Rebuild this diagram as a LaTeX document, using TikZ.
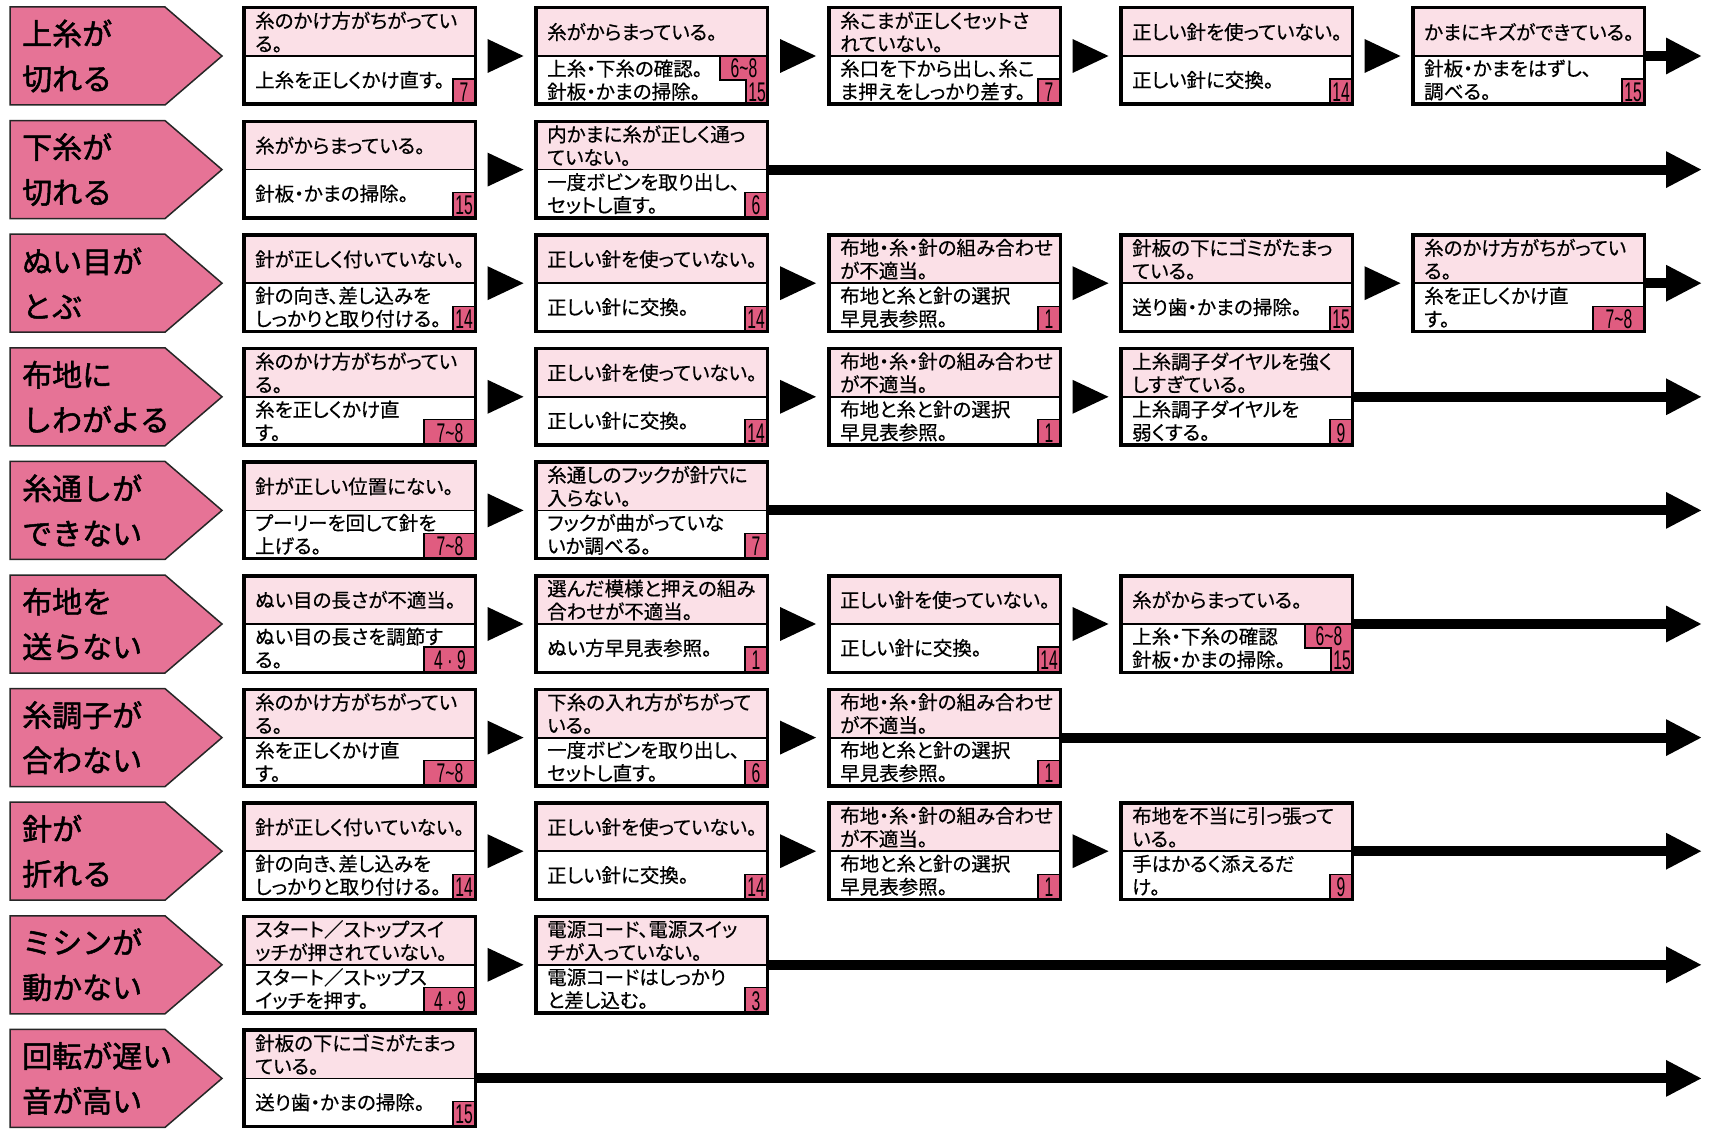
\documentclass[tikz,border=0pt]{standalone}
\usepackage{fontspec}
\newfontfamily\jp[RawFeature={+palt},FakeBold=0.5]{Noto Sans CJK JP}
\newfontfamily\jpb[FakeBold=1.6]{Noto Sans CJK JP}
\newfontfamily\numf[FakeStretch=0.58]{Liberation Sans}
\usetikzlibrary{calc,arrows.meta}
\definecolor{pentpink}{RGB}{230,115,150}
\definecolor{lightpink}{RGB}{251,224,231}
\definecolor{tagpink}{RGB}{224,92,128}
\tikzset{
  txt/.style={anchor=west, align=left, inner sep=0pt, font=\jp\fontsize{19.5}{23}\selectfont},
  lbl/.style={anchor=west, align=left, inner sep=0pt, font=\jpb\fontsize{30}{45}\selectfont},
  frame/.style={draw=black, line width=3.5pt, minimum width=231.5pt, minimum height=96.5pt, inner sep=0pt, anchor=center},
  tagbox/.style={fill=tagpink, draw=black, line width=1.2pt},
  tagtxt/.style={inner sep=0pt, font=\numf\fontsize{27}{27}\selectfont},
  pent/.style={fill=pentpink, draw=black!85, line width=1.5pt, line join=miter},
  bigarrow/.style={line width=10pt, -{Triangle[width=34pt,length=36pt]}},
}
% pentagon label: name, y, line1, line2
\newcommand\pent[4]{%
  \draw[pent] (10,#2+1) -- (165,#2+1) -- (222,#2+50) -- (165,#2+99) -- (10,#2+99) -- cycle;
  \node[lbl] (#1) at (22,#2+50) {#3\\#4};}
% tags: name, x, y, text
\newcommand\tagn[4]{%
  \filldraw[tagbox] (#2+211,#3+73) rectangle (#2+234,#3+99);
  \node[tagtxt] (#1g) at (#2+222,#3+86) {#4};}
\newcommand\tagw[4]{%
  \filldraw[tagbox] (#2+182,#3+73) rectangle (#2+234,#3+99);
  \node[tagtxt] (#1g) at (#2+208,#3+86) {#4};}
\newcommand\tags[4]{%
  \filldraw[tagbox] (#2+186,#3+50) -- (#2+234,#3+50) -- (#2+234,#3+99) -- (#2+212,#3+99) -- (#2+212,#3+74) -- (#2+186,#3+74) -- cycle;
  \node[tagtxt] (#1g) at (#2+210,#3+62.5) {6\textasciitilde 8};
  \node[tagtxt] (#1h) at (#2+223,#3+86.5) {15};}
% box: name, x, y, top, bottom, tagkind (n/w/s), tagtext
\newcommand\cb[7]{%
  \fill[lightpink] (#2,#3) rectangle (#2+235,#3+50);
  \draw[line width=1.8pt] (#2,#3+50) -- (#2+235,#3+50);
  \node[txt] (#1t) at (#2+13,#3+26) {#4};
  \node[txt] (#1b) at (#2+13,#3+74) {#5};
  \csname tag#6\endcsname{#1}{#2}{#3}{#7}
  \node[frame] (#1) at (#2+117.5,#3+50) {};}
% small triangle between boxes
\newcommand\tri[2]{%
  \path (#1.east) -- (#2.west) coordinate[pos=0.5] (m#1#2);
  \fill ($(m#1#2)+(-18,-17)$) -- ($(m#1#2)+(18,0)$) -- ($(m#1#2)+(-18,17)$) -- cycle;}
% long arrow to the right edge
\newcommand\longarrow[2]{%
  \coordinate (e#1) at (1702,#2+50);
  \draw[bigarrow] (#1.east) -- (e#1);}
\begin{document}
\begin{tikzpicture}[x=1pt,y=-1pt]
\useasboundingbox[fill=white] (0,0) rectangle (1711,1129);
% Row 1
\pent{p1}{6}{上糸が}{切れる}
\cb{ra}{242}{6}{糸のかけ方がちがってい\\る。}{上糸を正しくかけ直す。}{n}{7}
\cb{rb}{534}{6}{糸がからまっている。}{上糸・下糸の確認。\\針板・かまの掃除。}{s}{}
\cb{rc}{827}{6}{糸こまが正しくセットさ\\れていない。}{糸口を下から出し、糸こ\\ま押えをしっかり差す。}{n}{7}
\cb{rd}{1119}{6}{正しい針を使っていない。}{正しい針に交換。}{n}{14}
\cb{re}{1411}{6}{かまにキズができている。}{針板・かまをはずし、\\調べる。}{n}{15}
\tri{ra}{rb}\tri{rb}{rc}\tri{rc}{rd}\tri{rd}{re}
\longarrow{re}{6}
% Row 2
\pent{p2}{119.6}{下糸が}{切れる}
\cb{sa}{242}{119.6}{糸がからまっている。}{針板・かまの掃除。}{n}{15}
\cb{sb}{534}{119.6}{内かまに糸が正しく通っ\\ていない。}{一度ボビンを取り出し、\\セットし直す。}{n}{6}
\tri{sa}{sb}
\longarrow{sb}{119.6}
% Row 3
\pent{p3}{233.2}{ぬい目が}{とぶ}
\cb{ta}{242}{233.2}{針が正しく付いていない。}{針の向き、差し込みを\\しっかりと取り付ける。}{n}{14}
\cb{tb}{534}{233.2}{正しい針を使っていない。}{正しい針に交換。}{n}{14}
\cb{tc}{827}{233.2}{布地・糸・針の組み合わせ\\が不適当。}{布地と糸と針の選択\\早見表参照。}{n}{1}
\cb{td}{1119}{233.2}{針板の下にゴミがたまっ\\ている。}{送り歯・かまの掃除。}{n}{15}
\cb{te}{1411}{233.2}{糸のかけ方がちがってい\\る。}{糸を正しくかけ直\\す。}{w}{7\textasciitilde 8}
\tri{ta}{tb}\tri{tb}{tc}\tri{tc}{td}\tri{td}{te}
\longarrow{te}{233.2}
% Row 4
\pent{p4}{346.8}{布地に}{しわがよる}
\cb{ua}{242}{346.8}{糸のかけ方がちがってい\\る。}{糸を正しくかけ直\\す。}{w}{7\textasciitilde 8}
\cb{ub}{534}{346.8}{正しい針を使っていない。}{正しい針に交換。}{n}{14}
\cb{uc}{827}{346.8}{布地・糸・針の組み合わせ\\が不適当。}{布地と糸と針の選択\\早見表参照。}{n}{1}
\cb{ud}{1119}{346.8}{上糸調子ダイヤルを強く\\しすぎている。}{上糸調子ダイヤルを\\弱くする。}{n}{9}
\tri{ua}{ub}\tri{ub}{uc}\tri{uc}{ud}
\longarrow{ud}{346.8}
% Row 5
\pent{p5}{460.4}{糸通しが}{できない}
\cb{va}{242}{460.4}{針が正しい位置にない。}{プーリーを回して針を\\上げる。}{w}{7\textasciitilde 8}
\cb{vb}{534}{460.4}{糸通しのフックが針穴に\\入らない。}{フックが曲がっていな\\いか調べる。}{n}{7}
\tri{va}{vb}
\longarrow{vb}{460.4}
% Row 6
\pent{p6}{574}{布地を}{送らない}
\cb{wa}{242}{574}{ぬい目の長さが不適当。}{ぬい目の長さを調節す\\る。}{w}{4\,·\,9}
\cb{wb}{534}{574}{選んだ模様と押えの組み\\合わせが不適当。}{ぬい方早見表参照。}{n}{1}
\cb{wc}{827}{574}{正しい針を使っていない。}{正しい針に交換。}{n}{14}
\cb{wd}{1119}{574}{糸がからまっている。}{上糸・下糸の確認\\針板・かまの掃除。}{s}{}
\tri{wa}{wb}\tri{wb}{wc}\tri{wc}{wd}
\longarrow{wd}{574}
% Row 7
\pent{p7}{687.6}{糸調子が}{合わない}
\cb{xa}{242}{687.6}{糸のかけ方がちがってい\\る。}{糸を正しくかけ直\\す。}{w}{7\textasciitilde 8}
\cb{xb}{534}{687.6}{下糸の入れ方がちがって\\いる。}{一度ボビンを取り出し、\\セットし直す。}{n}{6}
\cb{xc}{827}{687.6}{布地・糸・針の組み合わせ\\が不適当。}{布地と糸と針の選択\\早見表参照。}{n}{1}
\tri{xa}{xb}\tri{xb}{xc}
\longarrow{xc}{687.6}
% Row 8
\pent{p8}{801.2}{針が}{折れる}
\cb{ya}{242}{801.2}{針が正しく付いていない。}{針の向き、差し込みを\\しっかりと取り付ける。}{n}{14}
\cb{yb}{534}{801.2}{正しい針を使っていない。}{正しい針に交換。}{n}{14}
\cb{yc}{827}{801.2}{布地・糸・針の組み合わせ\\が不適当。}{布地と糸と針の選択\\早見表参照。}{n}{1}
\cb{yd}{1119}{801.2}{布地を不当に引っ張って\\いる。}{手はかるく添えるだ\\け。}{n}{9}
\tri{ya}{yb}\tri{yb}{yc}\tri{yc}{yd}
\longarrow{yd}{801.2}
% Row 9
\pent{p9}{914.8}{ミシンが}{動かない}
\cb{za}{242}{914.8}{スタート／ストップスイ\\ッチが押されていない。}{スタート／ストップス\\イッチを押す。}{w}{4\,·\,9}
\cb{zb}{534}{914.8}{電源コード、電源スイッ\\チが入っていない。}{電源コードはしっかり\\と差し込む。}{n}{3}
\tri{za}{zb}
\longarrow{zb}{914.8}
% Row 10
\pent{p10}{1028.4}{回転が遅い}{音が高い}
\cb{qa}{242}{1028.4}{針板の下にゴミがたまっ\\ている。}{送り歯・かまの掃除。}{n}{15}
\longarrow{qa}{1028.4}
\end{tikzpicture}
\end{document}
